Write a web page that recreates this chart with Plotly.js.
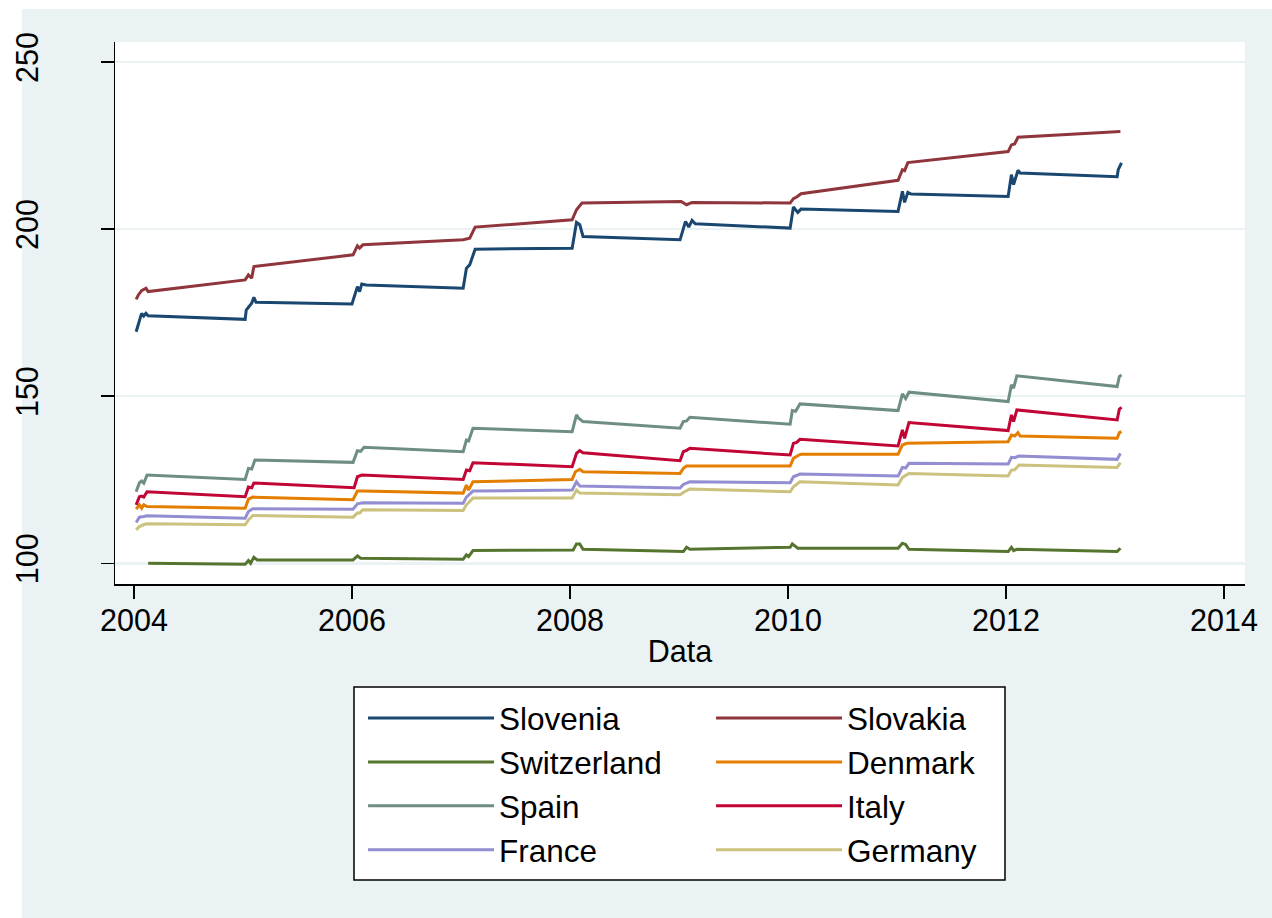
<!DOCTYPE html>
<html>
<head>
<meta charset="utf-8">
<script src="https://cdn.plot.ly/plotly-3.0.1.min.js"></script>
<style>
  html, body { margin: 0; padding: 0; background: #ffffff; }
  #chart { position: absolute; left: 0; top: 0; width: 1272px; height: 918px; }
</style>
</head>
<body>
<div id="chart"></div>
<script>
// Index series (decimal year, index level)
const sloveniaX = [2004.02,2004.07,2004.09,2004.11,2004.13,2005.02,2005.03,2005.08,2005.10,2005.12,2006.00,2006.05,2006.07,2006.09,2006.13,2007.02,2007.05,2007.08,2007.13,2008.02,2008.06,2008.09,2008.12,2009.01,2009.06,2009.09,2009.12,2009.15,2010.02,2010.05,2010.09,2010.12,2011.01,2011.05,2011.07,2011.10,2011.13,2012.02,2012.05,2012.07,2012.11,2012.13,2013.02,2013.03,2013.06];
const sloveniaY = [169.3,174.8,174.0,174.8,174.1,173.0,175.8,177.8,179.6,178.1,177.6,182.8,181.3,183.6,183.3,182.3,188.3,189.3,194.0,194.3,202.0,201.3,197.8,196.8,202.3,200.6,202.6,201.6,200.3,206.6,205.0,206.0,205.3,211.3,208.0,211.0,210.5,209.8,216.3,213.3,217.6,216.8,215.7,217.8,219.8];

const slovakiaX = [2004.02,2004.04,2004.07,2004.11,2004.13,2005.02,2005.05,2005.08,2005.10,2006.01,2006.05,2006.07,2006.10,2007.02,2007.08,2007.13,2008.02,2008.06,2008.11,2009.02,2009.07,2009.12,2010.02,2010.05,2010.08,2010.12,2011.01,2011.05,2011.07,2011.10,2012.02,2012.05,2012.08,2012.11,2013.05];
const slovakiaY = [179.0,180.3,181.6,182.3,181.3,184.8,186.3,185.3,188.8,192.3,195.0,194.3,195.3,196.8,197.3,200.6,202.8,205.8,207.8,208.3,207.3,208.0,207.8,209.1,209.6,210.6,214.6,217.8,217.5,219.9,223.2,225.2,225.5,227.5,229.2];

const switzerlandX = [2004.13,2005.02,2005.05,2005.07,2005.10,2005.13,2006.01,2006.05,2006.08,2007.02,2007.05,2007.07,2007.11,2008.03,2008.06,2008.09,2008.12,2009.04,2009.07,2009.10,2010.02,2010.04,2010.09,2011.01,2011.05,2011.08,2011.11,2012.02,2012.05,2012.07,2012.10,2013.02,2013.05];
const switzerlandY = [100.0,99.7,100.8,100.0,101.8,101.0,101.0,102.2,101.5,101.2,102.5,102.0,103.8,104.0,105.8,105.8,104.2,103.5,104.8,104.2,104.8,105.8,104.5,104.5,106.0,105.6,104.2,103.5,104.8,103.8,104.2,103.5,104.5];

const denmarkX = [2004.02,2004.05,2004.07,2004.09,2004.12,2005.02,2005.05,2005.09,2006.01,2006.05,2006.10,2007.02,2007.05,2007.07,2007.11,2008.02,2008.05,2008.09,2008.12,2009.01,2009.04,2009.07,2010.02,2010.05,2010.10,2010.12,2011.01,2011.05,2011.09,2012.02,2012.05,2012.08,2012.11,2012.13,2013.02,2013.04,2013.06];
const denmarkY = [116.2,117.5,116.5,117.5,117.0,116.5,119.2,119.8,119.0,121.6,121.6,121.0,123.4,121.9,124.4,125.1,127.4,128.1,127.4,126.9,128.4,129.1,129.1,131.4,132.4,132.6,132.6,135.4,135.9,136.4,138.4,138.1,139.1,138.1,137.4,139.1,139.4];

const spainX = [2004.02,2004.05,2004.07,2004.09,2004.12,2005.02,2005.05,2005.08,2005.11,2006.01,2006.05,2006.08,2006.11,2007.02,2007.05,2007.07,2007.11,2008.02,2008.06,2008.08,2008.12,2009.01,2009.04,2009.07,2009.10,2010.02,2010.04,2010.07,2010.11,2011.01,2011.05,2011.08,2011.11,2012.02,2012.05,2012.07,2012.10,2013.02,2013.04,2013.06];
const spainY = [121.4,124.1,124.6,124.0,126.4,125.1,128.4,128.2,130.9,130.2,133.7,133.5,134.7,133.4,136.9,136.6,140.4,139.4,144.4,143.4,142.4,140.4,142.4,142.6,143.7,141.6,145.7,145.5,147.7,145.7,150.7,149.3,151.2,148.4,153.4,152.4,156.1,152.9,155.9,156.4];

const italyX = [2004.02,2004.05,2004.07,2004.09,2004.12,2005.02,2005.05,2005.08,2005.10,2006.02,2006.05,2006.09,2007.02,2007.05,2007.08,2007.11,2008.02,2008.06,2008.09,2008.12,2009.01,2009.04,2009.07,2009.10,2010.02,2010.05,2010.08,2010.11,2011.01,2011.05,2011.07,2011.11,2012.02,2012.05,2012.07,2012.10,2013.02,2013.04,2013.06];
const italyY = [117.5,119.9,120.1,119.8,121.4,119.9,122.8,122.6,124.0,122.6,125.9,126.4,125.1,127.9,127.7,130.1,128.9,132.9,133.7,133.1,130.7,133.4,133.8,134.4,132.4,135.9,136.2,137.1,135.1,139.9,137.4,142.1,139.7,144.4,142.4,145.9,142.9,146.1,146.7];

const franceX = [2004.02,2004.05,2004.09,2004.12,2005.02,2005.05,2005.09,2006.01,2006.05,2006.10,2007.02,2007.05,2007.11,2008.02,2008.06,2008.09,2009.01,2009.04,2009.10,2010.02,2010.05,2010.11,2011.01,2011.05,2011.08,2011.11,2012.02,2012.05,2012.08,2012.12,2013.02,2013.05];
const franceY = [112.2,113.8,114.0,114.2,113.5,115.5,116.3,116.2,117.8,118.1,118.0,119.8,121.6,121.9,124.4,123.1,122.5,123.6,124.4,124.1,125.9,126.7,126.1,128.7,128.5,129.9,129.7,131.7,131.6,132.1,131.1,132.9];

const germanyX = [2004.02,2004.05,2004.09,2004.12,2005.02,2005.05,2005.09,2006.01,2006.05,2006.07,2006.10,2007.02,2007.05,2007.11,2008.02,2008.06,2008.09,2009.01,2009.05,2009.10,2010.02,2010.05,2010.11,2011.01,2011.05,2011.11,2012.02,2012.05,2012.08,2012.12,2013.02,2013.05];
const germanyY = [110.0,111.0,111.6,111.8,111.5,113.0,114.3,113.8,115.1,115.0,116.0,115.8,117.5,119.5,119.5,121.9,121.0,120.5,121.4,122.2,121.4,122.9,124.4,123.4,125.7,126.9,126.1,127.9,128.0,129.4,128.7,130.1];

const xTicks = [2004, 2006, 2008, 2010, 2012, 2014];
const yTicks = [100, 150, 200, 250];

const FONT = '"Liberation Sans", Arial, Helvetica, sans-serif';
const BG = '#eaf2f3';

// legend is laid out as two stacked columns: group "a" on the left, "b" on the right
function series(name, x, y, color, column) {
  return {
    type: 'scatter', mode: 'lines', name: name, x: x, y: y,
    line: { color: color, width: 3 },
    legendgroup: column,
    legendwidth: column === 'a' ? 207 : 150,
    hoverinfo: 'x+y+name'
  };
}

const traces = [
  series('Slovenia', sloveniaX, sloveniaY, '#1a476f', 'a'),
  series('Slovakia', slovakiaX, slovakiaY, '#90353b', 'b'),
  series('Switzerland', switzerlandX, switzerlandY, '#55752f', 'a'),
  series('Denmark', denmarkX, denmarkY, '#e37e00', 'b'),
  series('Spain', spainX, spainY, '#6e8e84', 'a'),
  series('Italy', italyX, italyY, '#c10534', 'b'),
  series('France', franceX, franceY, '#938dd2', 'a'),
  series('Germany', germanyX, germanyY, '#cac27e', 'b')
];

const layout = {
  width: 1272, height: 918,
  margin: { l: 115, r: 27, t: 42, b: 334, pad: 0 },
  paper_bgcolor: '#ffffff',
  plot_bgcolor: '#ffffff',
  font: { family: FONT, size: 30.5, color: '#000000' },
  showlegend: true,
  shapes: [
    // graph region fill
    { type: 'rect', xref: 'paper', yref: 'paper', layer: 'below',
      x0: -0.0823, x1: 1.0239, y0: -0.6162, y1: 1.0609,
      fillcolor: BG, line: { width: 0 } },
    // plot region
    { type: 'rect', xref: 'paper', yref: 'paper', layer: 'below',
      x0: 0, x1: 1, y0: 0, y1: 1,
      fillcolor: '#ffffff', line: { width: 0 } },
    // legend frame
    { type: 'rect', xref: 'paper', yref: 'paper', layer: 'below',
      x0: 0.2115, x1: 0.7876, y0: -0.5461, y1: -0.1900,
      fillcolor: '#ffffff', line: { color: '#000000', width: 1.5 } }
  ],
  xaxis: {
    range: [2003.826, 2014.193],
    tickmode: 'array', tickvals: xTicks, ticktext: xTicks.map(String),
    ticks: 'outside', ticklen: 13, tickwidth: 1.5, tickcolor: '#000000',
    showline: true, linecolor: '#000000', linewidth: 1.5,
    showgrid: false, zeroline: false,
    ticklabelstandoff: -4,
    tickfont: { size: 30.5 },
    title: { text: 'Data', font: { size: 30.5 }, standoff: 4 }
  },
  yaxis: {
    range: [93.8, 256],
    tickmode: 'array', tickvals: yTicks, ticktext: yTicks.map(String),
    ticks: 'outside', ticklen: 13, tickwidth: 1.5, tickcolor: '#000000',
    showline: true, linecolor: '#000000', linewidth: 1.5,
    showgrid: true, gridcolor: BG, gridwidth: 2.5,
    zeroline: false, tickangle: -90,
    ticklabelstandoff: 50,
    tickfont: { size: 30.5 }
  },
  legend: {
    orientation: 'h',
    traceorder: 'grouped',
    xref: 'container', yref: 'container',
    x: 0.2854, xanchor: 'left',
    y: 0.2473, yanchor: 'top',
    bgcolor: 'rgba(0,0,0,0)', borderwidth: 0,
    font: { size: 31.5 },
    itemwidth: 126
  }
};

Plotly.newPlot('chart', traces, layout, { displayModeBar: false, staticPlot: true });
</script>
</body>
</html>
